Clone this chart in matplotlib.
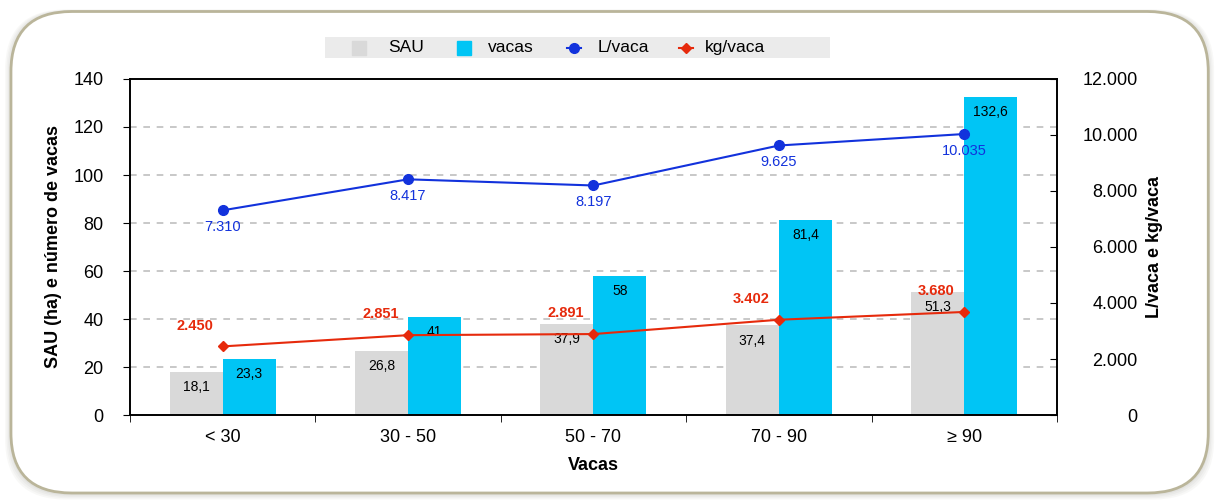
import matplotlib.pyplot as plt
import numpy as np
from matplotlib.patches import FancyBboxPatch, Rectangle
from matplotlib.lines import Line2D

plt.rcParams['font.family'] = ['Liberation Sans', 'DejaVu Sans']

categories = ['< 30', '30 - 50', '50 - 70', '70 - 90', '≥ 90']
sau = [18.1, 26.8, 37.9, 37.4, 51.3]
vacas = [23.3, 41, 58, 81.4, 132.6]
l_vaca = [7310, 8417, 8197, 9625, 10035]
kg_vaca = [2450, 2851, 2891, 3402, 3680]
legend_names = ['SAU', 'vacas', 'L/vaca', 'kg/vaca']

def fmt_thousands(v):
    return f"{v:,.0f}".replace(',', '.')

def fmt_dec(v):
    return (f"{v:g}").replace('.', ',')

c_sau = '#D9D9D9'
c_vacas = '#00C5F5'
c_blue = '#1232DC'
c_red = '#E62A0C'

W, H = 1218, 500
fig = plt.figure(figsize=(W / 100, H / 100), dpi=100)

# rounded frame with soft shadow
for i, a in enumerate([0.05, 0.05, 0.06, 0.07]):
    pad = 0.004 * (4 - i)
    fig.patches.append(FancyBboxPatch((0.009 - pad * 0.3, 0.012 - pad * 0.7), 0.983 + pad * 0.6, 0.966 + pad * 0.9,
                                      boxstyle="round,pad=0,rounding_size=0.05", transform=fig.transFigure,
                                      facecolor='#808070', edgecolor='none', alpha=a, mutation_aspect=2.4, zorder=0))
fig.patches.append(FancyBboxPatch((0.009, 0.014), 0.983, 0.963,
                                  boxstyle="round,pad=0,rounding_size=0.05", transform=fig.transFigure,
                                  facecolor='white', edgecolor='#BAB59A', linewidth=2, mutation_aspect=2.4, zorder=1))

ax = fig.add_axes([0.1067, 0.17, 0.7611, 0.672])
ax.set_zorder(2)
ax2 = ax.twinx()
ax.patch.set_visible(False)

x = np.arange(len(categories))
w = 0.286
b1 = ax.bar(x - w / 2, sau, w, color=c_sau, zorder=2)
b2 = ax.bar(x + w / 2, vacas, w, color=c_vacas, zorder=2)

for rect, v in zip(b1, sau):
    ax.annotate(fmt_dec(v), (rect.get_x() + rect.get_width() / 2, rect.get_height()),
                xytext=(0, -11), textcoords='offset points', ha='center', va='center', fontsize=10, zorder=5)
for rect, v in zip(b2, vacas):
    ax.annotate(fmt_dec(v), (rect.get_x() + rect.get_width() / 2, rect.get_height()),
                xytext=(0, -11), textcoords='offset points', ha='center', va='center', fontsize=10, zorder=5)

ax.set_xlim(-0.5, len(categories) - 0.5)
ax.set_ylim(0, 140)
ax.set_yticks(range(0, 141, 20))
ax.set_xticks(x)
ax.set_xticklabels(categories)
ax.set_xticks(np.arange(-0.5, len(categories), 1), minor=True)
ax.tick_params(axis='x', which='major', length=0, labelsize=13, pad=10)
ax.tick_params(axis='x', which='minor', length=5, direction='out')
ax.tick_params(axis='y', labelsize=13, length=5, direction='out', pad=14)
for yv in range(20, 140, 20):
    ax.axhline(yv, color='#BFBFBF', linestyle=(0, (4, 4)), linewidth=1.2, zorder=1)

ax.set_ylabel('SAU (ha) e número de vacas', fontsize=13, fontweight='bold', labelpad=8)
ax.set_xlabel('Vacas', fontsize=13, fontweight='bold', labelpad=8)

ax2.plot(x, l_vaca, color=c_blue, marker='o', markersize=7, linewidth=1.5, zorder=4)
ax2.plot(x, kg_vaca, color=c_red, marker='D', markersize=5.5, linewidth=1.5, zorder=4)
for xi, v in zip(x, l_vaca):
    ax2.annotate(fmt_thousands(v), (xi, v), xytext=(0, -12), textcoords='offset points',
                 ha='center', va='center', fontsize=10.5, color=c_blue)
for xi, v in zip(x, kg_vaca):
    ax2.annotate(fmt_thousands(v), (xi, v), xytext=(-20, 15), textcoords='offset points',
                 ha='center', va='center', fontsize=10.5, color=c_red, fontweight='bold')

ax2.set_ylim(0, 12000)
ax2.set_yticks(range(0, 12001, 2000))
ax2.set_yticklabels([fmt_thousands(v) for v in range(0, 12001, 2000)])
ax2.tick_params(axis='y', labelsize=13, length=5, direction='in', pad=58)
for lbl in ax2.get_yticklabels():
    lbl.set_horizontalalignment('right')
ax2.set_ylabel('L/vaca e kg/vaca', fontsize=13, fontweight='bold', labelpad=6)

for a in (ax, ax2):
    for s in a.spines.values():
        s.set_color('black')
        s.set_linewidth(1.2)

# legend strip drawn by hand to match spacing
fig.patches.append(Rectangle((325 / W, 1 - 58 / H), 505 / W, 21 / H, transform=fig.transFigure,
                             facecolor='#EBEBEB', edgecolor='none', zorder=3))
leg_marker_x = [359, 464, 574, 686]
leg_text_x = [388, 488, 598, 705]
leg_styles = [dict(marker='s', color=c_sau, markersize=10),
              dict(marker='s', color=c_vacas, markersize=10),
              dict(marker='o', color=c_blue, markersize=7),
              dict(marker='D', color=c_red, markersize=5.5)]
ly = 1 - 47.5 / H
for mx, tx, name, st in zip(leg_marker_x, leg_text_x, legend_names, leg_styles):
    if st['marker'] != 's':
        fig.add_artist(Line2D([(mx - 7) / W, (mx + 7) / W], [ly, ly], color=st['color'], linewidth=1.5, zorder=4))
    fig.add_artist(Line2D([mx / W], [ly], linestyle='none', zorder=5, **st))
    fig.text(tx / W, ly, name, ha='left', va='center', fontsize=12.5, zorder=5)

fig.savefig('out.png', dpi=100)
